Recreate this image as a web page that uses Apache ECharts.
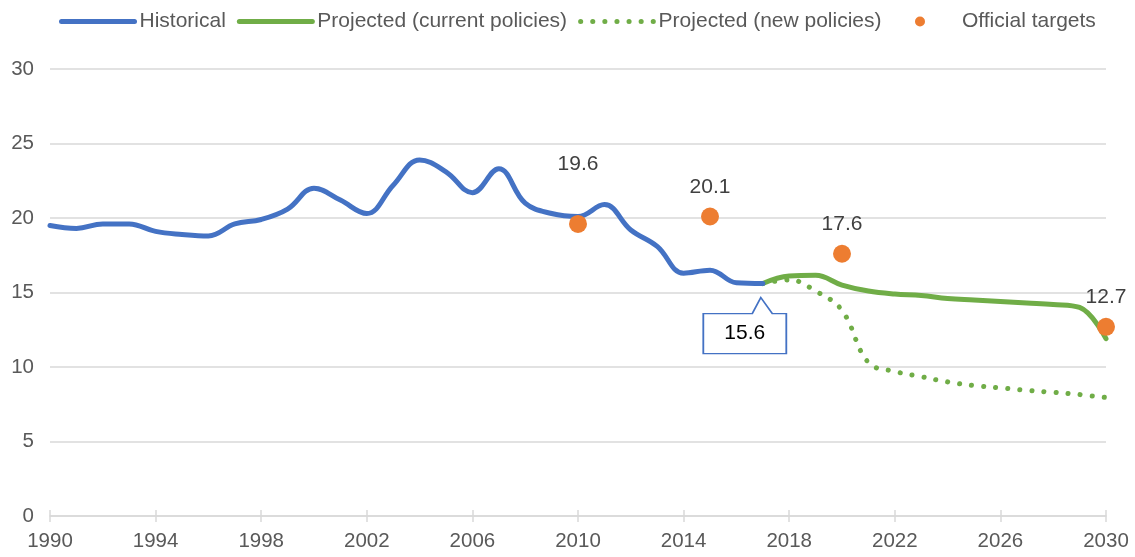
<!DOCTYPE html>
<html>
<head>
<meta charset="utf-8">
<script src="https://cdn.jsdelivr.net/npm/echarts@6/dist/echarts.min.js"></script>
<style>
  html, body { margin: 0; padding: 0; background: #fff; }
  #chart { width: 1135px; height: 557px; }
</style>
</head>
<body>
<div id="chart"></div>
<script>
const years = ['1990','1991','1992','1993','1994','1995','1996','1997','1998','1999',
  '2000','2001','2002','2003','2004','2005','2006','2007','2008','2009',
  '2010','2011','2012','2013','2014','2015','2016','2017','2018','2019',
  '2020','2021','2022','2023','2024','2025','2026','2027','2028','2029','2030'];

// 1990 - 2017
const historical = [19.5, 19.3, 19.6, 19.6, 19.1, 18.9, 18.8, 19.6, 19.9, 20.6,
  22.0, 21.2, 20.3, 22.2, 23.9, 23.1, 21.7, 23.3, 21.0, 20.3,
  20.1, 20.9, 19.2, 18.1, 16.3, 16.5, 15.65, 15.6];

// 2017 - 2030
const currentPolicies = [15.6, 16.1, 16.15, 15.5, 15.1, 14.9, 14.8, 14.6, 14.5, 14.4, 14.3, 14.2, 14.0, 11.9];
const newPolicies = [15.6, 15.85, 15.1, 13.8, 10.3, 9.7, 9.35, 9.0, 8.75, 8.6, 8.43, 8.3, 8.15, 7.95];

const targetYears = ['2010', '2015', '2020', '2030'];
const targetValues = [19.6, 20.1, 17.6, 12.7];

const projStart = years.indexOf('2017');
const pad = (arr, start) => years.map((y, i) => (i >= start && i - start < arr.length) ? arr[i - start] : null);

const histData = pad(historical, 0);
const curData = pad(currentPolicies, projStart);
const newData = pad(newPolicies, projStart);
const targetData = targetYears.map((y, i) => ({
  value: [y, targetValues[i]],
  label: { distance: i === 0 ? 40 : 10 }
}));

const FONT = 'Liberation Sans, Arial, sans-serif';
const BLUE = '#4472C4', GREEN = '#70AD47', ORANGE = '#ED7D31';
const GRIDC = '#D9D9D9', TXT = '#595959';

const legendText = { fontSize: 21, color: TXT, fontFamily: FONT };
const hideSym = { opacity: 0 };

const chart = echarts.init(document.getElementById('chart'), null, { renderer: 'canvas' });
chart.setOption({
  animation: false,
  textStyle: { fontFamily: FONT },
  grid: { left: 50, right: 29, top: 69, bottom: 41 },
  legend: [{
    left: 54, top: 6,
    itemWidth: 73, itemHeight: 11, itemGap: 11,
    textStyle: legendText,
    lineStyle: { width: 5, cap: 'round' },
    data: [
      { name: 'Historical', itemStyle: hideSym },
      { name: 'Projected (current policies)', itemStyle: hideSym },
      { name: 'Projected (new policies)', itemStyle: hideSym }
    ]
  }, {
    left: 910, top: 6,
    itemWidth: 74, itemHeight: 10,
    textStyle: legendText,
    data: [{ name: 'Official targets', icon: 'circle' }]
  }],
  xAxis: [{
    type: 'category', data: years, boundaryGap: false,
    axisLine: { lineStyle: { color: GRIDC, width: 1.5 } },
    axisTick: { interval: 3, length: 6, lineStyle: { color: GRIDC, width: 1.5 } },
    axisLabel: { interval: 3, fontSize: 20.5, color: TXT, margin: 15, fontFamily: FONT },
    splitLine: { show: false }
  }, {
    type: 'category', data: years, boundaryGap: false, position: 'bottom',
    axisLine: { show: false },
    axisTick: { inside: true, interval: 3, length: 6, lineStyle: { color: GRIDC, width: 1.5 } },
    axisLabel: { show: false },
    splitLine: { show: false }
  }],
  yAxis: {
    type: 'value', min: 0, max: 30, interval: 5,
    axisLine: { show: false }, axisTick: { show: false },
    axisLabel: { fontSize: 20.5, color: TXT, margin: 16, fontFamily: FONT },
    splitLine: { lineStyle: { color: GRIDC, width: 1.5 } }
  },
  series: [
    {
      name: 'Projected (new policies)', type: 'line', data: newData,
      smooth: 0.4, symbol: 'none', connectNulls: false, z: 2,
      lineStyle: { color: GREEN, width: 5, type: [0.1, 12], cap: 'round' },
      itemStyle: { color: GREEN }
    },
    {
      name: 'Projected (current policies)', type: 'line', data: curData,
      smooth: 0.4, symbol: 'none', z: 3,
      lineStyle: { color: GREEN, width: 5, cap: 'round' },
      itemStyle: { color: GREEN }
    },
    {
      name: 'Historical', type: 'line', data: histData,
      smooth: 0.4, symbol: 'none', z: 4,
      lineStyle: { color: BLUE, width: 5, cap: 'round' },
      itemStyle: { color: BLUE },
      markPoint: {
        symbol: 'path://M49 16 L57.5 0 L69 16 L83 16 L83 56 L0 56 L0 16 Z',
        symbolSize: [83, 56],
        symbolOffset: [-18, 42],
        symbolKeepAspect: false,
        itemStyle: { color: '#FFFFFF', borderColor: BLUE, borderWidth: 1.5 },
        label: {
          show: true, position: 'inside', offset: [0, 8],
          fontSize: 21, color: '#000000', fontFamily: FONT,
          formatter: p => p.value.toFixed(1)
        },
        data: [{ coord: ['2017', historical[historical.length - 1]], value: historical[historical.length - 1] }]
      }
    },
    {
      name: 'Official targets', type: 'scatter', data: targetData,
      symbol: 'circle', symbolSize: 18, z: 5,
      itemStyle: { color: ORANGE, opacity: 1 },
      label: {
        show: true, position: 'top', fontSize: 21, color: '#404040', fontFamily: FONT,
        formatter: p => p.value[1].toFixed(1)
      }
    }
  ]
});
</script>
</body>
</html>
